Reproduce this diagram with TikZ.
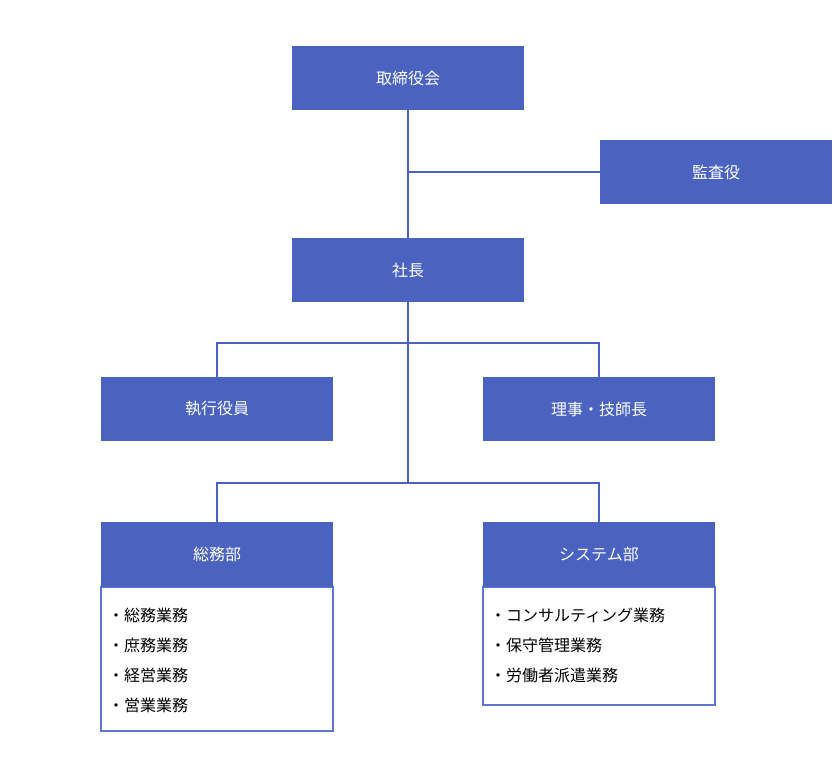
\documentclass[tikz,border=0pt]{standalone}
\usepackage{fontspec}
\setmainfont{Noto Sans CJK JP}
\definecolor{boxblue}{HTML}{4A63C0}
\definecolor{edgeblue}{HTML}{5E75D2}
\begin{document}
\begin{tikzpicture}[x=1pt,y=-1pt,
  hdr/.style={fill=boxblue,draw=none,minimum width=232pt,minimum height=64pt,inner sep=0pt,text=white,font=\fontsize{16pt}{19pt}\selectfont},
  bodybox/.style={draw=edgeblue,line width=1.2pt,fill=white,minimum width=232pt,inner sep=0pt},
  item/.style={anchor=west,inner sep=0pt,font=\fontsize{16pt}{19pt}\selectfont},
  conn/.style={draw=boxblue,line width=2pt}]
\useasboundingbox (0,0) rectangle (840,764);
\node[hdr] (board) at (408,78) {取締役会};
\node[hdr] (audit) at (716,172) {監査役};
\node[hdr] (pres) at (408,270) {社長};
\node[hdr] (exec) at (217,409) {執行役員};
\node[hdr] (dir) at (599,409) {理事・技師長};
\node[bodybox,minimum height=144pt] (gabody) at (217,659) {};
\node[bodybox,minimum height=118pt] (sysbody) at (599,646) {};
\node[hdr,minimum height=65pt] (ga) at (217,554.5) {総務部};
\node[hdr,minimum height=65pt] (sys) at (599,554.5) {システム部};
\node[item] (g1) at (108,615) {・総務業務};
\node[item] (g2) at (108,645) {・庶務業務};
\node[item] (g3) at (108,675) {・経営業務};
\node[item] (g4) at (108,705) {・営業業務};
\node[item] (s1) at (490,615) {・コンサルティング業務};
\node[item] (s2) at (490,645) {・保守管理業務};
\node[item] (s3) at (490,675) {・労働者派遣業務};
\coordinate (j1) at (408,343);
\coordinate (j2) at (408,483);
\draw[conn] (board.south) -- (pres.north);
\draw[conn] (board.south |- audit.west) -- (audit.west);
\draw[conn] (pres.south) -- (j2);
\draw[conn] (exec.north) |- (j1) -| (dir.north);
\draw[conn] (ga.north) |- (j2) -| (sys.north);
\end{tikzpicture}
\end{document}
